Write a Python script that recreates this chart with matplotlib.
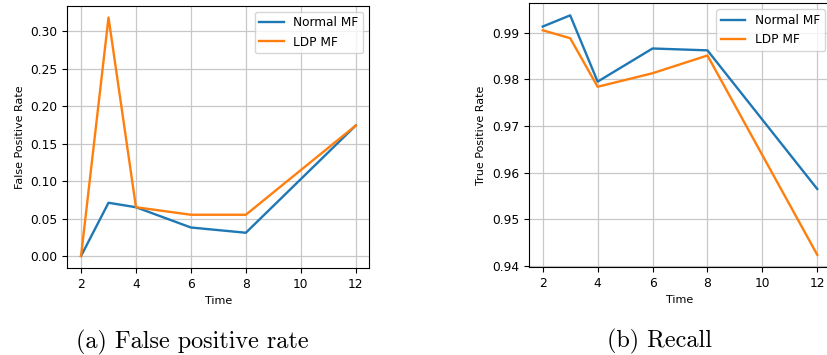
import numpy as np
import matplotlib
matplotlib.use("Agg")
import matplotlib.pyplot as plt

# donnees
time = [2, 3, 4, 6, 8, 12]
fpr_normal = [0.0, 0.071, 0.065, 0.038, 0.031, 0.174]
fpr_ldp = [0.0, 0.318, 0.065, 0.055, 0.055, 0.174]
tpr_normal = [0.9913, 0.9937, 0.9795, 0.9866, 0.9862, 0.9565]
tpr_ldp = [0.9905, 0.9888, 0.9784, 0.9813, 0.9851, 0.9424]
xticks = [2, 4, 6, 8, 10, 12]
labels = ["Normal MF", "LDP MF"]
captions = ["(a) False positive rate", "(b) Recall"]

fig = plt.figure(figsize=(8.28, 3.55), dpi=100)
ax1 = fig.add_axes([0.0813, 0.2453, 0.3649, 0.7389])
ax2 = fig.add_axes([0.6389, 0.2485, 0.3647, 0.7420])

def trace(ax, y1, y2, ylabel):
    ax.plot(time, y1, color="#1f77b4", lw=1.7, label=labels[0])
    ax.plot(time, y2, color="#ff7f0e", lw=1.7, label=labels[1])
    ax.set_xticks(xticks)
    ax.grid(True, color="#c8c8c8", lw=0.9)
    ax.tick_params(labelsize=8.8)
    ax.set_xlabel("Time", fontsize=8)
    ax.set_ylabel(ylabel, fontsize=8)
    ax.legend(loc="upper right", fontsize=8.7)

trace(ax1, fpr_normal, fpr_ldp, "False Positive Rate")
trace(ax2, tpr_normal, tpr_ldp, "True Positive Rate")
ax2.set_yticks([0.94, 0.95, 0.96, 0.97, 0.98, 0.99])

fig.text(192/828, 7/355, captions[0], family="cmr10", fontsize=17.4, ha="center", va="baseline")
fig.text(660/828, 8/355, captions[1], family="cmr10", fontsize=17.4, ha="center", va="baseline")

fig.savefig("out.png", dpi=100)
